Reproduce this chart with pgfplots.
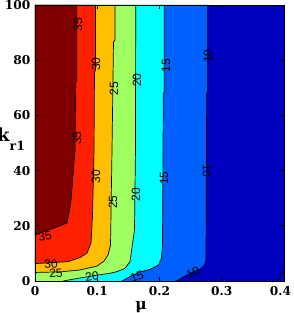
\documentclass[border=0pt]{standalone}
\usepackage{pgfplots}
\pgfplotsset{compat=1.18}
\usepackage{fontspec}
\setmainfont{Liberation Sans}
\newfontfamily\tickfont{DejaVu Serif}
\newfontfamily\lblfont{Liberation Sans}
\definecolor{cDR}{RGB}{128,0,0}
\definecolor{cR}{RGB}{255,32,0}
\definecolor{cO}{RGB}{255,191,0}
\definecolor{cG}{RGB}{160,255,96}
\definecolor{cC}{RGB}{0,255,255}
\definecolor{cB}{RGB}{0,96,255}
\definecolor{cDB}{RGB}{0,0,191}
\begin{document}
\begin{tikzpicture}
\useasboundingbox (0,0) rectangle (293pt,313pt);
\begin{axis}[
  at={(35pt,32pt)}, anchor=south west,
  scale only axis, width=249pt, height=276pt,
  xmin=0, xmax=0.4, ymin=0, ymax=100,
  xtick={0,0.1,0.2,0.3,0.4}, ytick={0,20,40,60,80,100},
  xticklabels={0,0.1,0.2,0.3,\hspace*{-7pt}0.4},
  xtick pos=both, ytick pos=both,
  tick align=inside, major tick length=4pt,
  axis on top,
  axis line style={black, line width=0.8pt},
  tick style={black, line width=0.8pt},
  /pgf/number format/assume math mode=true,
  ticklabel style={font=\fontsize{12.2}{13}\tickfont\bfseries},
  xticklabel style={yshift=-2pt},
  yticklabel style={xshift=-1pt},
  xlabel={\fontsize{15.5}{15.5}\tickfont\bfseries μ},
  xlabel style={at={(rel axis cs:0.426,0)}, anchor=north, yshift=-16.5pt},
  ylabel={\fontsize{18}{18}\tickfont\bfseries k\raisebox{-9pt}{\fontsize{12.5}{12.5}\tickfont\bfseries r1}},
  ylabel style={rotate=-90, at={(rel axis cs:0,0.504)}, anchor=base west, xshift=-38pt, inner sep=0pt},
]
% base fill (<10)
\addplot[fill=cDB, draw=none] coordinates {(0,0) (0.4,0) (0.4,100) (0,100)};
% >10
\addplot[fill=cB, draw=none] coordinates {(0.2774,100) (0.2774,68.5) (0.2758,67.8) (0.2747,7.6) (0.2723,5.8) (0.2667,4.5) (0.2538,3.3) (0.2377,1.4) (0.2276,0) (0,0) (0,100)};
% >15
\addplot[fill=cC, draw=none] coordinates {(0.2077,100) (0.2077,68.5) (0.2061,67.8) (0.2048,13.0) (0.2032,8.3) (0.1984,5.8) (0.1847,4.2) (0.1687,3.3) (0.1526,1.6) (0.1398,0) (0,0) (0,100)};
% >20
\addplot[fill=cG, draw=none] coordinates {(0.1618,100) (0.1614,47.5) (0.1598,18.5) (0.1526,7.0) (0.1446,4.6) (0.1317,3.4) (0.1205,2.8) (0.0964,2.0) (0.0723,1.1) (0.045,0) (0,0) (0,100)};
% >25
\addplot[fill=cO, draw=none] coordinates {(0.1285,100) (0.1285,87.3) (0.1261,86.6) (0.1237,47.5) (0.1213,13.0) (0.1173,9.4) (0.1108,7.2) (0.0996,5.4) (0.0723,4.0) (0.0402,3.3) (0,3.1) (0,100)};
% >30
\addplot[fill=cR, draw=none] coordinates {(0.0972,100) (0.0972,76.4) (0.0956,75.7) (0.0948,47.5) (0.0924,23.9) (0.0900,13.8) (0.0835,10.1) (0.0723,8.5) (0.0530,7.0) (0,6.3) (0,100)};
% >35
\addplot[fill=cDR, draw=none] coordinates {(0.0670,100) (0.0670,72.5) (0.0654,72.2) (0.0643,47.5) (0.0578,29.3) (0.0546,24.6) (0.0514,21.0) (0,16.7) (0,100)};
% contour lines
\addplot[black, line width=0.7pt] coordinates {(0.2774,100) (0.2774,68.5) (0.2758,67.8) (0.2747,7.6) (0.2723,5.8) (0.2667,4.5) (0.2538,3.3) (0.2377,1.4) (0.2276,0)};
\addplot[black, line width=0.7pt] coordinates {(0.2077,100) (0.2077,68.5) (0.2061,67.8) (0.2048,13.0) (0.2032,8.3) (0.1984,5.8) (0.1847,4.2) (0.1687,3.3) (0.1526,1.6) (0.1398,0)};
\addplot[black, line width=0.7pt] coordinates {(0.1618,100) (0.1614,47.5) (0.1598,18.5) (0.1526,7.0) (0.1446,4.6) (0.1317,3.4) (0.1205,2.8) (0.0964,2.0) (0.0723,1.1) (0.045,0)};
\addplot[black, line width=0.7pt] coordinates {(0.1285,100) (0.1285,87.3) (0.1261,86.6) (0.1237,47.5) (0.1213,13.0) (0.1173,9.4) (0.1108,7.2) (0.0996,5.4) (0.0723,4.0) (0.0402,3.3) (0,3.1)};
\addplot[black, line width=0.7pt] coordinates {(0.0972,100) (0.0972,76.4) (0.0956,75.7) (0.0948,47.5) (0.0924,23.9) (0.0900,13.8) (0.0835,10.1) (0.0723,8.5) (0.0530,7.0) (0,6.3)};
\addplot[black, line width=0.7pt] coordinates {(0.0670,100) (0.0670,72.5) (0.0654,72.2) (0.0643,47.5) (0.0578,29.3) (0.0546,24.6) (0.0514,21.0) (0,16.7)};
\addplot[black, line width=0.7pt] coordinates {(0.4,3.6) (0.3952,2.2) (0.3888,0)};
% contour labels
\begin{scope}[every node/.style={font=\fontsize{12}{12}\lblfont, inner sep=0pt, text=black}]
\node[rotate=90] at (axis cs:0.0691,92.8) {35};
\node[rotate=90] at (axis cs:0.0675,51.8) {35};
\node[rotate=90] at (axis cs:0.098,78.6) {30};
\node[rotate=90] at (axis cs:0.098,37.7) {30};
\node[rotate=90] at (axis cs:0.1269,69.6) {25};
\node[rotate=90] at (axis cs:0.1253,28.6) {25};
\node[rotate=90] at (axis cs:0.1639,72.8) {20};
\node[rotate=90] at (axis cs:0.1622,31.2) {20};
\node[rotate=90] at (axis cs:0.2104,77.9) {15};
\node[rotate=90] at (axis cs:0.2072,37.3) {15};
\node[rotate=90] at (axis cs:0.2779,81.5) {10};
\node[rotate=-90] at (axis cs:0.2763,39.9) {10};
\node[rotate=12] at (axis cs:0.0161,16.3) {35};
\node[rotate=5] at (axis cs:0.0257,6.2) {30};
\node[rotate=3] at (axis cs:0.0337,2.9) {25};
\node[rotate=8] at (axis cs:0.0916,1.8) {20};
\node[rotate=20] at (axis cs:0.1639,1.6) {15};
\node[rotate=25] at (axis cs:0.2538,2.9) {10};
\end{scope}
\end{axis}
\end{tikzpicture}
\end{document}
